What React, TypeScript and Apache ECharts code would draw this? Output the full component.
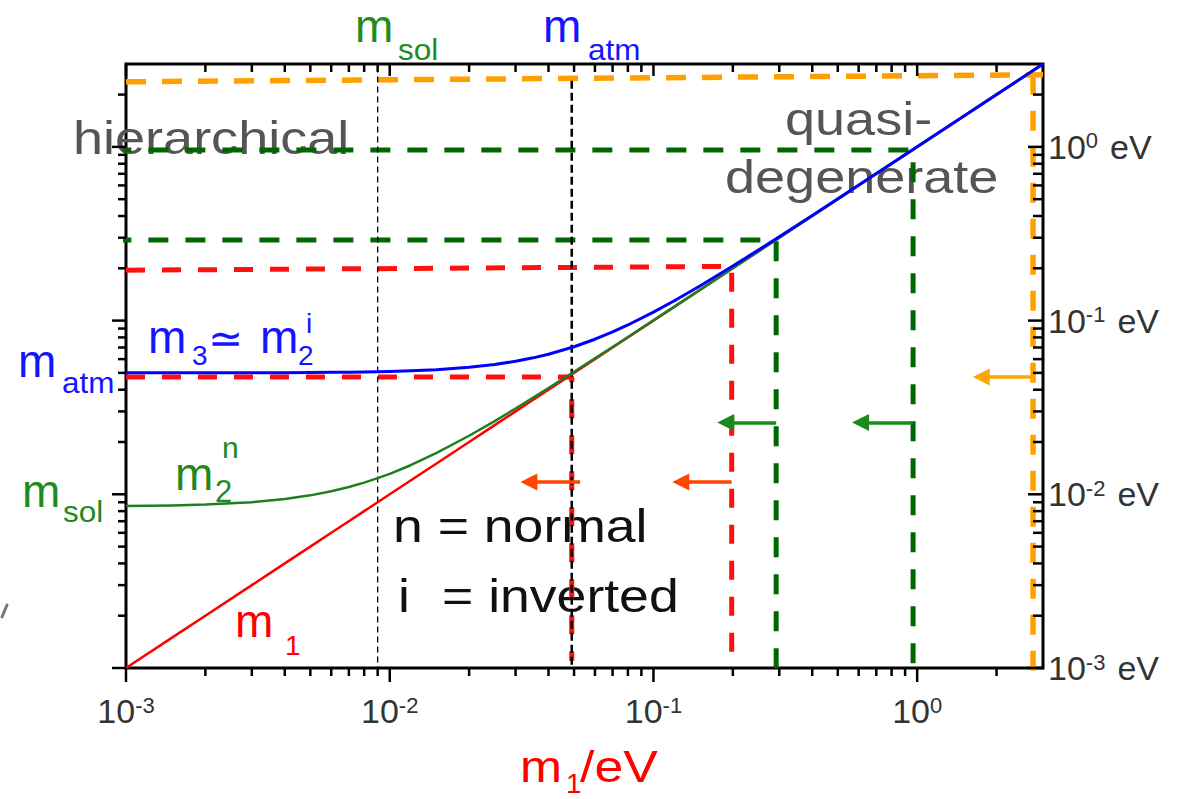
import React, { useEffect, useRef } from 'react';
import * as echarts from 'echarts';

// lightest neutrino mass m1 (eV), sampled along the x axis
const m1Grid = [
  0.001, 0.0015, 0.002, 0.003, 0.004, 0.005, 0.006, 0.007, 0.008, 0.009, 0.01, 0.012, 0.015,
  0.02, 0.025, 0.03, 0.035, 0.04, 0.05, 0.06, 0.07, 0.08, 0.1, 0.12, 0.15, 0.2, 0.25, 0.3,
  0.4, 0.5, 0.7, 1, 1.5, 2, 3,
];
// m1 itself (eV)
const m1Values = [
  0.001, 0.0015, 0.002, 0.003, 0.004, 0.005, 0.006, 0.007, 0.008, 0.009, 0.01, 0.012, 0.015,
  0.02, 0.025, 0.03, 0.035, 0.04, 0.05, 0.06, 0.07, 0.08, 0.1, 0.12, 0.15, 0.2, 0.25, 0.3,
  0.4, 0.5, 0.7, 1, 1.5, 2, 3,
];
// m2, normal ordering (eV)
const m2Normal = [
  0.00856, 0.00863, 0.00873, 0.00901, 0.00939, 0.00986, 0.0104, 0.01101, 0.01167, 0.01238, 0.01312,
  0.0147, 0.01724, 0.02173, 0.0264, 0.03118, 0.03602, 0.04089, 0.05072, 0.0606, 0.07051, 0.08045,
  0.10036, 0.1203, 0.15024, 0.20018, 0.25014, 0.30012, 0.40009, 0.50007, 0.70005,
  1.00004, 1.50002, 2.00002, 3.00001,
];
// m3 ~ m2, inverted ordering (eV)
const m3Inverted = [
  0.05001, 0.05002, 0.05004, 0.05009, 0.05016, 0.05025, 0.05036, 0.05049, 0.05064, 0.0508, 0.05099,
  0.05142, 0.0522, 0.05385, 0.0559, 0.05831, 0.06103, 0.06403, 0.07071, 0.0781, 0.08602, 0.09434,
  0.1118, 0.13, 0.15811, 0.20616, 0.25495, 0.30414, 0.40311, 0.50249, 0.70178,
  1.00125, 1.50083, 2.00062, 3.00042,
];

// axis range and tick positions (eV)
const axisMin = 0.001;
const axisMax = 3;
const decadeTicks = [0.001, 0.01, 0.1, 1];
const minorTicks = [
  0.002, 0.003, 0.004, 0.005, 0.006, 0.007, 0.008, 0.009,
  0.02, 0.03, 0.04, 0.05, 0.06, 0.07, 0.08, 0.09,
  0.2, 0.3, 0.4, 0.5, 0.6, 0.7, 0.8, 0.9,
  2,
];

// dashed guides, as (m1, m) points in eV
const orangeBound = [[0.001, 2.37], [3, 2.6]];
const orangeDrop = [[2.75, 2.6], [2.75, 0.00088]];
const greenUpper = [[0.00088, 0.96], [0.965, 0.96], [0.965, 0.00088]];
const greenLower = [[0.00088, 0.291], [0.292, 0.291], [0.292, 0.001]];
const redUpper = [[0.001, 0.195], [0.198, 0.205], [0.198, 0.001]];
const redLower = [[0.001, 0.0473], [0.049, 0.0473], [0.049, 0.0011]];
const solMarker = [[0.009, 2.9], [0.009, 0.001]];
const atmMarker = [[0.049, 2.4], [0.049, 0.001]];

// bound arrows: [tail m1, head m1, level] in eV
const orangeArrows = [[2.75, 1.75, 0.0473]];
const greenArrows = [[0.965, 0.61, 0.0259], [0.292, 0.188, 0.0259]];
const redArrows = [[0.198, 0.127, 0.01178], [0.0527, 0.0337, 0.01178]];

const FONT = '"Liberation Sans", Arial, Helvetica, sans-serif';
const GRAY = '#555555';
const BLUE = '#1414ff';
const GREEN_TXT = '#1f8a1f';
const RED = '#ff0000';
const BLACK = '#111111';

const lg = (v: number) => Math.log10(v);
const toLog = (pts: number[][]) => pts.map(([x, y]) => [lg(x), lg(y)]);

// text placed by its left edge and alphabetic baseline
const txt = (text: string, x: number, base: number, size: number, fill: string, sx = 1) => ({
  type: 'text',
  x,
  y: base - 0.3465 * size,
  scaleX: sx,
  silent: true,
  style: { text, x: 0, y: 0, fontSize: size, fontFamily: FONT, fill, align: 'left', verticalAlign: 'middle' },
});

const supLabel = (v: number, unit: boolean) => {
  if (Math.abs(v - Math.round(v)) > 1e-6) return '';
  const n = Math.round(v);
  return unit ? `{b|10}{s|${n}}{e|eV}` : `{b|10}{s|${n}}`;
};

const labelRich = {
  b: { fontSize: 34, lineHeight: 34, fontFamily: FONT, color: '#333' },
  s: { fontSize: 22, lineHeight: 21, fontFamily: FONT, color: '#333', verticalAlign: 'top' },
  e: { fontSize: 34, lineHeight: 34, fontFamily: FONT, color: '#333', padding: [0, 0, 0, 12] },
};

function guide(data: number[][], color: string, width: number, dash: number[], z = 1) {
  return {
    type: 'line',
    data: toLog(data),
    showSymbol: false,
    symbol: 'none',
    clip: false,
    silent: true,
    z,
    lineStyle: { color, width, type: dash, cap: 'butt' },
  };
}

function arrowSeries(list: number[][], color: string) {
  return {
    type: 'lines',
    coordinateSystem: 'cartesian2d',
    silent: true,
    z: 5,
    symbol: ['none', 'triangle'],
    symbolSize: 17,
    lineStyle: { color, width: 3.5, opacity: 1, curveness: 0 },
    data: list.map(([a, b, y]) => ({ coords: [[lg(a), lg(y)], [lg(b), lg(y)]] })),
  };
}

const xTickData = [
  ...decadeTicks.map((v) => [lg(v), lg(axisMin), 1]),
  ...minorTicks.map((v) => [lg(v), lg(axisMin), 0]),
];
const yTickData = [
  ...decadeTicks.map((v) => [lg(axisMin), lg(v), 1]),
  ...minorTicks.map((v) => [lg(axisMin), lg(v), 0]),
];

const tickStyle = { stroke: '#000', lineWidth: 2.5 };

export default function App() {
  const ref = useRef<HTMLDivElement>(null);

  useEffect(() => {
    if (!ref.current) return;
    const chart = echarts.init(ref.current, null, { renderer: 'svg' });

    const curve = (ys: number[], color: string, width: number, z: number) => ({
      type: 'line',
      data: m1Grid.map((x, i) => [lg(x), lg(ys[i])]),
      showSymbol: false,
      symbol: 'none',
      smooth: false,
      silent: true,
      z,
      lineStyle: { color, width, join: 'round' },
    });

    const option: any = {
      animation: false,
      backgroundColor: '#ffffff',
      grid: {
        left: 126,
        right: 143,
        top: 64,
        bottom: 131,
        show: true,
        borderColor: '#000',
        borderWidth: 3,
        backgroundColor: 'transparent',
      },
      xAxis: {
        type: 'value',
        min: lg(axisMin),
        max: lg(axisMax),
        interval: 1,
        axisLine: { show: false },
        axisTick: { show: false },
        splitLine: { show: false },
        axisLabel: {
          margin: 26,
          formatter: (v: number) => supLabel(v, false),
          rich: labelRich,
        },
      },
      yAxis: {
        type: 'value',
        position: 'right',
        min: lg(axisMin),
        max: lg(axisMax),
        interval: 1,
        axisLine: { show: false },
        axisTick: { show: false },
        splitLine: { show: false },
        axisLabel: {
          margin: 5,
          align: 'left',
          formatter: (v: number) => supLabel(v, true),
          rich: labelRich,
        },
      },
      series: [
        guide(orangeBound, '#ffa000', 5.5, [20, 16]),
        guide(orangeDrop, '#ffa000', 5.5, [20, 16]),
        guide(greenUpper, '#006600', 5, [20, 17]),
        guide(greenLower, '#006600', 5, [20, 17]),
        guide(redUpper, '#ff1010', 5, [19, 17]),
        guide(redLower, '#ff1010', 5, [19, 17]),
        guide(solMarker, '#000', 1.3, [6, 4]),
        guide(atmMarker, '#000', 2.5, [8, 4]),
        curve(m1Values, '#ff0000', 2.5, 3),
        curve(m2Normal, '#1f7f1f', 2.5, 3),
        curve(m3Inverted, '#0000ff', 3, 4),
        arrowSeries(orangeArrows, '#ffa500'),
        arrowSeries(greenArrows, '#1a8a1a'),
        arrowSeries(redArrows, '#ff4500'),
        {
          type: 'custom',
          data: xTickData,
          clip: false,
          silent: true,
          z: 10,
          renderItem: (params: any, api: any) => {
            const cs = params.coordSys;
            const px = api.coord([api.value(0), api.value(1)])[0];
            const major = api.value(2) === 1;
            const bottom = cs.y + cs.height;
            const top = cs.y;
            return {
              type: 'group',
              children: [
                { type: 'line', shape: { x1: px, y1: bottom, x2: px, y2: bottom + (major ? 14 : 8) }, style: tickStyle },
                { type: 'line', shape: { x1: px, y1: top, x2: px, y2: top + (major ? 12 : 8) }, style: tickStyle },
              ],
            };
          },
        },
        {
          type: 'custom',
          data: yTickData,
          clip: false,
          silent: true,
          z: 10,
          renderItem: (params: any, api: any) => {
            const cs = params.coordSys;
            const py = api.coord([api.value(0), api.value(1)])[1];
            const major = api.value(2) === 1;
            const left = cs.x;
            const right = cs.x + cs.width;
            return {
              type: 'group',
              children: [
                { type: 'line', shape: { x1: left - (major ? 14 : 8), y1: py, x2: left, y2: py }, style: tickStyle },
                { type: 'line', shape: { x1: right - (major ? 15 : 10), y1: py, x2: right, y2: py }, style: tickStyle },
              ],
            };
          },
        },
      ],
      graphic: {
        elements: [
          txt('hierarchical', 73, 154, 47, GRAY, 1.15),
          txt('quasi-', 785, 135, 47, GRAY, 1.15),
          txt('degenerate', 725, 193, 47, GRAY, 1.15),

          txt('m', 355, 42, 46, GREEN_TXT),
          txt('sol', 398, 60, 30, GREEN_TXT, 1.05),
          txt('m', 543, 42, 46, BLUE),
          txt('atm', 588, 60, 30, BLUE, 1.05),

          txt('m', 148, 353, 46, BLUE),
          txt('3', 192, 365, 28, BLUE),
          txt('≃', 208, 353, 42, BLUE),
          txt('m', 260, 353, 46, BLUE),
          txt('2', 298, 365, 28, BLUE),
          txt('i', 306, 333, 28, BLUE),

          txt('m', 18, 377, 46, BLUE),
          txt('atm', 62, 393, 30, BLUE, 1.05),
          txt('m', 22, 507, 46, GREEN_TXT),
          txt('sol', 63, 522, 30, GREEN_TXT, 1.05),

          txt('m', 175, 490, 46, GREEN_TXT),
          txt('2', 215, 502, 31, GREEN_TXT),
          txt('n', 222, 458, 30, GREEN_TXT),

          txt('m', 235, 637, 46, RED),
          txt('1', 285, 655, 28, RED),

          txt('n = normal', 393, 542, 47, BLACK, 1.14),
          txt('i', 398, 612, 47, BLACK, 1.14),
          txt('= inverted', 442, 612, 47, BLACK, 1.14),

          txt('m', 520, 782, 45, RED, 1.12),
          txt('1', 566, 793, 28, RED),
          txt('/eV', 580, 782, 45, RED, 1.15),

          {
            type: 'line',
            silent: true,
            shape: { x1: 2, y1: 617, x2: 7, y2: 605 },
            style: { stroke: '#777', lineWidth: 3, lineCap: 'round' },
          },
        ],
      },
    };

    chart.setOption(option);
    return () => chart.dispose();
  }, []);

  return (
    <div
      ref={ref}
      style={{ position: 'absolute', left: 0, top: 0, width: 1186, height: 799, background: '#fff' }}
    />
  );
}
